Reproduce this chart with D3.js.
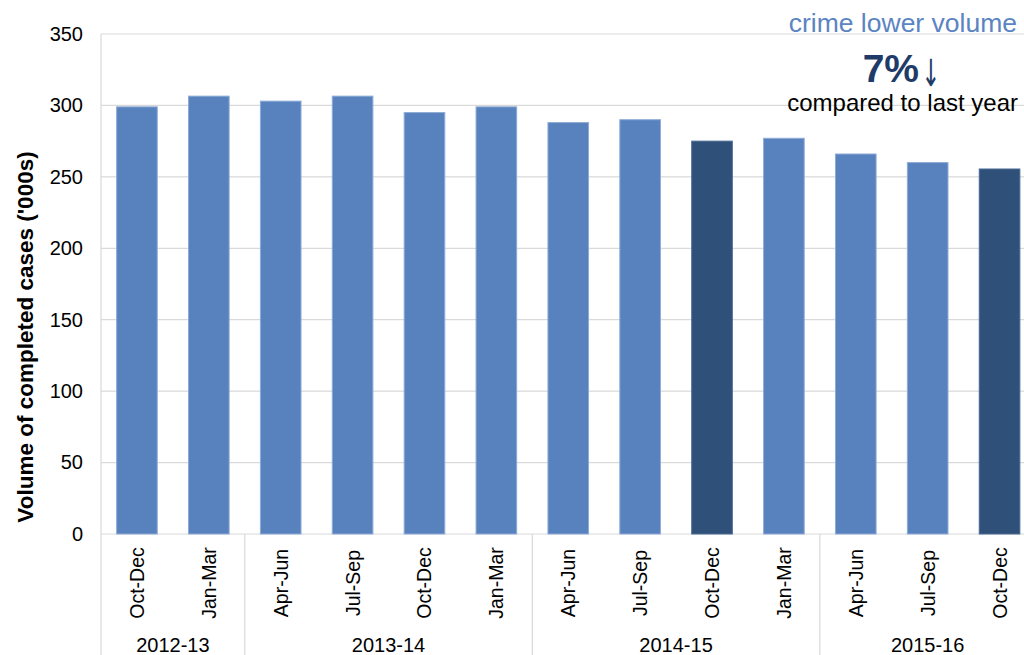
<!DOCTYPE html>
<html>
<head>
<meta charset="utf-8">
<script src="https://cdn.jsdelivr.net/npm/d3@7"></script>
<style>
  html, body { margin: 0; padding: 0; background: #fff; }
  svg { display: block; font-family: "Liberation Sans", Arial, sans-serif; }
</style>
</head>
<body>
<svg id="chart" width="1024" height="655"></svg>
<script>
// Quarterly volume of completed crime cases ('000s)
const quarters = ["Oct-Dec", "Jan-Mar", "Apr-Jun", "Jul-Sep", "Oct-Dec", "Jan-Mar",
                  "Apr-Jun", "Jul-Sep", "Oct-Dec", "Jan-Mar", "Apr-Jun", "Jul-Sep", "Oct-Dec"];
const years = ["2012-13", "2012-13", "2013-14", "2013-14", "2013-14", "2013-14",
               "2014-15", "2014-15", "2014-15", "2014-15", "2015-16", "2015-16", "2015-16"];
const volumes = [299, 306.5, 303, 306.5, 295, 299, 288, 290, 275, 277, 266, 260, 255.5];
// Quarters compared year on year are shown in the darker shade
const highlighted = [false, false, false, false, false, false, false, false, true, false, false, false, true];
const yTicks = [0, 50, 100, 150, 200, 250, 300, 350];

const svg = d3.select("#chart");
const plot = { left: 101, right: 1035.5, top: 34, bottom: 534 };
const labelBottom = 655;

const x = d3.scaleBand()
  .domain(d3.range(quarters.length))
  .range([plot.left, plot.right])
  .paddingInner(0.435)
  .paddingOuter(0.2175);

const y = d3.scaleLinear().domain([0, 350]).range([plot.bottom, plot.top]);

// Horizontal gridlines
svg.append("g")
  .selectAll("line")
  .data(yTicks)
  .join("line")
  .attr("x1", plot.left).attr("x2", plot.right)
  .attr("y1", d => y(d)).attr("y2", d => y(d))
  .attr("stroke", "#d9d9d9").attr("stroke-width", 1.2);

// Value axis labels
const yAxis = d3.axisLeft(y).tickValues(yTicks).tickSize(0).tickPadding(18);
svg.append("g")
  .attr("transform", `translate(${plot.left},0)`)
  .call(yAxis)
  .call(g => g.select(".domain").remove())
  .call(g => g.selectAll("text")
    .attr("font-size", 20)
    .attr("font-family", "\"Liberation Sans\", Arial, sans-serif")
    .attr("fill", "#000"));

// Bars
svg.append("g")
  .selectAll("rect")
  .data(volumes)
  .join("rect")
  .attr("x", (d, i) => x(i))
  .attr("width", x.bandwidth())
  .attr("y", d => y(d))
  .attr("height", d => y(0) - y(d))
  .attr("fill", (d, i) => highlighted[i] ? "#2f5079" : "#5882be")
  .attr("stroke", (d, i) => highlighted[i] ? "#4a6a95" : "#8eabd6")
  .attr("stroke-width", 1);

// Left axis line running through the category area
svg.append("line")
  .attr("x1", plot.left).attr("x2", plot.left)
  .attr("y1", plot.top).attr("y2", labelBottom)
  .attr("stroke", "#d9d9d9").attr("stroke-width", 1.2);

// Quarter labels (rotated)
svg.append("g")
  .selectAll("text")
  .data(quarters)
  .join("text")
  .attr("transform", (d, i) => `translate(${x(i) + x.bandwidth() / 2 + 7},583) rotate(-90)`)
  .attr("text-anchor", "middle")
  .attr("font-size", 19.5)
  .attr("fill", "#000")
  .text(d => d);

// Financial year groups with separators
const groups = [];
years.forEach((yr, i) => {
  const last = groups[groups.length - 1];
  if (last && last.year === yr) last.end = i;
  else groups.push({ year: yr, start: i, end: i });
});
const step = x.step();
const bandStart = i => x(i) - (step - x.bandwidth()) / 2;

svg.append("g")
  .selectAll("line")
  .data(groups.slice(1))
  .join("line")
  .attr("x1", d => bandStart(d.start)).attr("x2", d => bandStart(d.start))
  .attr("y1", plot.bottom).attr("y2", labelBottom)
  .attr("stroke", "#d9d9d9").attr("stroke-width", 1.2);

svg.append("g")
  .selectAll("text")
  .data(groups)
  .join("text")
  .attr("x", d => (x(d.start) + x(d.end) + x.bandwidth()) / 2)
  .attr("y", 652)
  .attr("text-anchor", "middle")
  .attr("font-size", 20)
  .attr("fill", "#000")
  .text(d => d.year);

// Value axis title
svg.append("text")
  .attr("transform", "translate(33,337) rotate(-90)")
  .attr("text-anchor", "middle")
  .attr("font-size", 22.5)
  .attr("font-weight", "bold")
  .attr("fill", "#000")
  .text("Volume of completed cases ('000s)");

// Year-on-year change callout
svg.append("text")
  .attr("x", 1017).attr("y", 32)
  .attr("text-anchor", "end")
  .attr("font-size", 26.5)
  .attr("fill", "#5a84c2")
  .text("crime lower volume");

svg.append("text")
  .attr("x", 919).attr("y", 82)
  .attr("text-anchor", "end")
  .attr("font-size", 39)
  .attr("font-weight", "bold")
  .attr("fill", "#1f3c68")
  .text("7%");

svg.append("text")
  .attr("x", 931).attr("y", 86)
  .attr("text-anchor", "middle")
  .attr("font-size", 30)
  .attr("font-family", "\"DejaVu Sans\", sans-serif")
  .attr("fill", "#1f3c68")
  .attr("transform", "translate(931,86) scale(0.75,1.25) translate(-931,-86)")
  .text("\u2193");

svg.append("text")
  .attr("x", 1018).attr("y", 111)
  .attr("text-anchor", "end")
  .attr("font-size", 24)
  .attr("fill", "#000")
  .text("compared to last year");
</script>
</body>
</html>
